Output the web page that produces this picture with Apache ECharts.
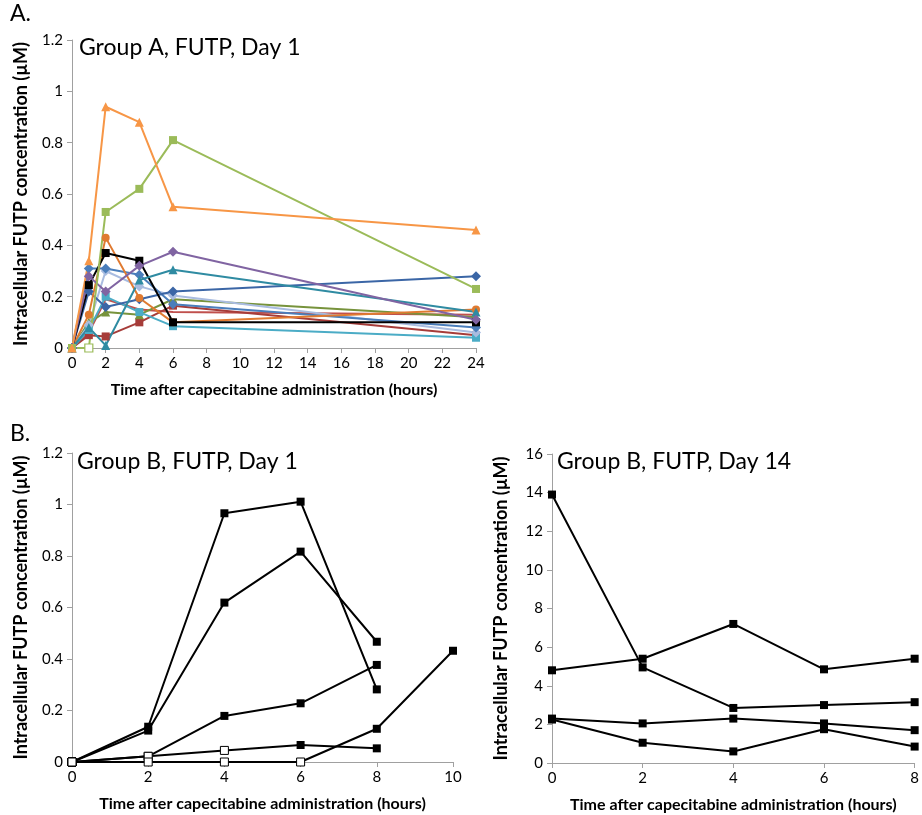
<!DOCTYPE html>
<html>
<head>
<meta charset="utf-8">
<script src="https://cdn.jsdelivr.net/npm/echarts@6/dist/echarts.min.js"></script>
<style>
  html, body { margin: 0; padding: 0; background: #fff; }
  #chart { width: 922px; height: 815px; }
</style>
</head>
<body>
<div id="chart"></div>
<script>
// time points (hours)
const hoursA = [0, 1, 2, 4, 6, 24];
const hoursB1 = [0, 2, 4, 6, 8, 10];
const hoursB14 = [0, 2, 4, 6, 8];

// Group A, day 1 (uM)
const aRedLine   = [0, 0.06, 0.19, 0.15, 0.14, 0.13];
const aRedSq     = [0, 0.05, 0.045, 0.10, 0.165, 0.05];
const aOliveTri  = [0, 0.10, 0.14, 0.13, 0.19, 0.12];
const aCyanSq    = [0, 0.07, 0.20, 0.14, 0.085, 0.04];
const aLilacDia  = [0, 0.09, 0.30, 0.24, 0.205, 0.06];
const aBlueDia   = [0, 0.31, 0.31, 0.285, 0.17, 0.08];
const aNavyDia   = [0, 0.22, 0.16, 0.19, 0.22, 0.28];
const aBrownCirc = [0, 0.13, 0.43, 0.195, 0.10, 0.15];
const aBlackSq   = [0, 0.245, 0.37, 0.34, 0.10, 0.10];
const aTealTri   = [0, 0.08, 0.01, 0.265, 0.305, 0.14];
const aPurpleDia = [0, 0.28, 0.22, 0.32, 0.375, 0.11];
const aGreenSq   = [0, 0, 0.53, 0.62, 0.81, 0.23];
const aOrangeTri = [0, 0.34, 0.94, 0.88, 0.55, 0.46];

// Group B, day 1 (uM)
const b1Pt1 = [0, 0.137, 0.966, 1.011, 0.282];
const b1Pt2 = [0, 0.122, 0.619, 0.817, 0.467];
const b1Pt3 = [0, 0.022, 0.179, 0.228, 0.377];
const b1Pt4 = [0, 0.022, 0.045, 0.066, 0.053];
const b1Pt5 = [0, 0, 0, 0, 0.129, 0.432];
// indexes drawn as open squares
const b1Open = [[0], [0], [0, 1], [0, 1, 2], [0, 1, 2, 3]];

// Group B, day 14 (uM)
const b14Pt1 = [13.9, 4.95, 2.85, 3.0, 3.15];
const b14Pt2 = [4.8, 5.4, 7.2, 4.85, 5.4];
const b14Pt3 = [2.3, 2.05, 2.3, 2.05, 1.7];
const b14Pt4 = [2.25, 1.05, 0.6, 1.75, 0.85];

const FONT = "Lato";
const AXIS_GREY = "#a0a0a0";
const Y_NAME = "Intracellular FUTP concentration (\u00b5M)";
const X_NAME = "Time after capecitabine administration (hours)";

function pairs(xs, ys) {
  return ys.map((y, i) => [xs[i], y]);
}

function xAxis(grid, max, interval) {
  return {
    type: "value", gridIndex: grid, min: 0, max: max, interval: interval,
    axisLine: { show: true, lineStyle: { color: AXIS_GREY } },
    axisTick: { show: true, length: 5, lineStyle: { color: AXIS_GREY } },
    splitLine: { show: false },
    axisLabel: { fontFamily: FONT, fontSize: 15, color: "#000", margin: 8 },
    name: X_NAME, nameLocation: "middle", nameGap: 34,
    nameTextStyle: { fontFamily: FONT, fontSize: 16, fontWeight: "bold", color: "#000" }
  };
}

function yAxis(grid, max, interval) {
  return {
    type: "value", gridIndex: grid, min: 0, max: max, interval: interval,
    axisLine: { show: true, lineStyle: { color: AXIS_GREY } },
    axisTick: { show: true, length: 5, lineStyle: { color: AXIS_GREY } },
    splitLine: { show: false },
    axisLabel: { fontFamily: FONT, fontSize: 15, color: "#000", margin: 9 },
    name: Y_NAME, nameLocation: "middle", nameRotate: 90, nameGap: 42,
    nameTextStyle: { fontFamily: FONT, fontSize: 18, fontWeight: "bold", color: "#000" }
  };
}

// series look for panel A
const styleA = [
  { data: aRedLine, color: "#c0504d", symbol: "none", size: 0 },
  { data: aRedSq, color: "#a63c39", symbol: "rect", size: 8 },
  { data: aOliveTri, color: "#77933c", symbol: "triangle", size: 9 },
  { data: aCyanSq, color: "#4bacc6", symbol: "rect", size: 8 },
  { data: aLilacDia, color: "#a9bce0", symbol: "diamond", size: 10 },
  { data: aBlueDia, color: "#4a7ebb", symbol: "diamond", size: 10 },
  { data: aNavyDia, color: "#3b66a6", symbol: "diamond", size: 10 },
  { data: aBrownCirc, color: "#e07a30", symbol: "circle", size: 8 },
  { data: aBlackSq, color: "#000000", symbol: "rect", size: 8 },
  { data: aTealTri, color: "#2f8ba2", symbol: "triangle", size: 9 },
  { data: aPurpleDia, color: "#8064a2", symbol: "diamond", size: 10 },
  { data: aGreenSq, color: "#9bbb59", symbol: "rect", size: 8, open: [1] },
  { data: aOrangeTri, color: "#f79646", symbol: "triangle", size: 9 }
];

const series = [];
styleA.forEach((s) => {
  const pts = pairs(hoursA, s.data).map((p, i) =>
    s.open && s.open.includes(i)
      ? { value: p, itemStyle: { color: "#fff", borderColor: s.color, borderWidth: 1.2 } }
      : p
  );
  series.push({
    type: "line", xAxisIndex: 0, yAxisIndex: 0, data: pts,
    symbol: s.symbol, symbolSize: s.size, showSymbol: s.symbol !== "none",
    lineStyle: { width: 2, color: s.color },
    itemStyle: { color: s.color },
    emphasis: { disabled: true }
  });
});

[b1Pt1, b1Pt2, b1Pt3, b1Pt4, b1Pt5].forEach((ys, k) => {
  const pts = pairs(hoursB1, ys).map((p, i) =>
    b1Open[k].includes(i)
      ? { value: p, itemStyle: { color: "#fff", borderColor: "#000", borderWidth: 1 } }
      : p
  );
  series.push({
    type: "line", xAxisIndex: 1, yAxisIndex: 1, data: pts,
    symbol: "rect", symbolSize: 8,
    lineStyle: { width: 2, color: "#000" },
    itemStyle: { color: "#000" },
    emphasis: { disabled: true }
  });
});

[b14Pt1, b14Pt2, b14Pt3, b14Pt4].forEach((ys) => {
  series.push({
    type: "line", xAxisIndex: 2, yAxisIndex: 2, data: pairs(hoursB14, ys),
    symbol: "rect", symbolSize: 8,
    lineStyle: { width: 2, color: "#000" },
    itemStyle: { color: "#000" },
    emphasis: { disabled: true }
  });
});

const chart = echarts.init(document.getElementById("chart"));
const titleStyle = { fontFamily: FONT, fontSize: 23, fontWeight: "normal", color: "#000" };
chart.setOption({
  animation: false,
  backgroundColor: "#fff",
  title: [
    { text: "A.", left: 10, top: 2, textStyle: titleStyle, padding: 0 },
    { text: "Group A, FUTP, Day 1", left: 79, top: 36, textStyle: titleStyle, padding: 0 },
    { text: "B.", left: 10, top: 422, textStyle: titleStyle, padding: 0 },
    { text: "Group B, FUTP, Day 1", left: 77, top: 450, textStyle: titleStyle, padding: 0 },
    { text: "Group B, FUTP, Day 14", left: 557, top: 450, textStyle: titleStyle, padding: 0 }
  ],
  grid: [
    { left: 72, top: 40, width: 404, height: 308 },
    { left: 72, top: 453, width: 381, height: 309 },
    { left: 552, top: 454, width: 363, height: 309 }
  ],
  xAxis: [xAxis(0, 24, 2), xAxis(1, 10, 2), xAxis(2, 8, 2)],
  yAxis: [yAxis(0, 1.2, 0.2), yAxis(1, 1.2, 0.2), yAxis(2, 16, 2)],
  series: series
});
</script>
</body>
</html>
